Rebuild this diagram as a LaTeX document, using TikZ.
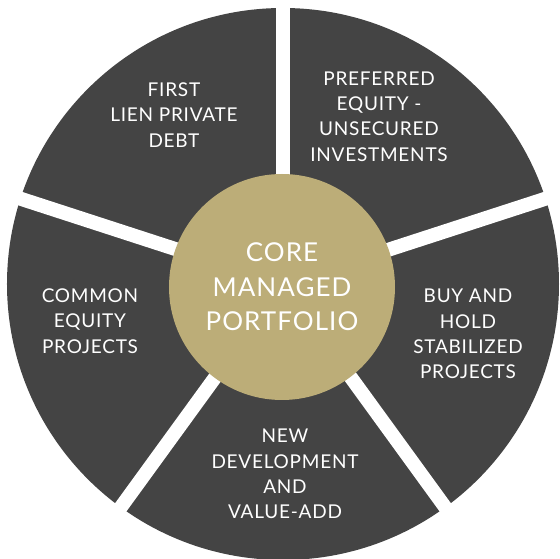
\documentclass[tikz,border=0pt]{standalone}
\usepackage{fontspec}
\setmainfont{Lato}[LetterSpace=4]
\usepackage{tikz}
\definecolor{slate}{RGB}{68,68,68}
\definecolor{sand}{RGB}{188,173,120}

\begin{document}
\begin{tikzpicture}[x=1pt,y=1pt,
    lbl/.style={text=white,align=center,font=\fontsize{19}{25.3}\selectfont}]

          \useasboundingbox (-283,-275) rectangle (277,284);
          \fill[slate] (0,0) circle [radius=276];

          \foreach \theta in {18,90,162,234,306}{
            \draw[white,line width=14pt] (0,0) -- (\theta:282);
          }

          \node[circle,fill=sand,minimum size=226pt,text=white,align=center,
                font=\fontsize{26}{34.5}\selectfont] (core) at (-1,-3) {CORE\\MANAGED\\PORTFOLIO};

          \node[lbl] (first) at (-109,169) {FIRST\\LIEN PRIVATE\\DEBT};
          \node[lbl] (preferred) at (96,167.5) {PREFERRED\\EQUITY -\\UNSECURED\\INVESTMENTS};
          \node[lbl] (common) at (-193,-37) {COMMON\\EQUITY\\PROJECTS};
          \node[lbl] (buyhold) at (185,-50) {BUY AND\\HOLD\\STABILIZED\\PROJECTS};
          \node[lbl] (newdev) at (2,-190) {NEW\\DEVELOPMENT\\AND\\VALUE-ADD};
        \end{tikzpicture}
\end{document}
